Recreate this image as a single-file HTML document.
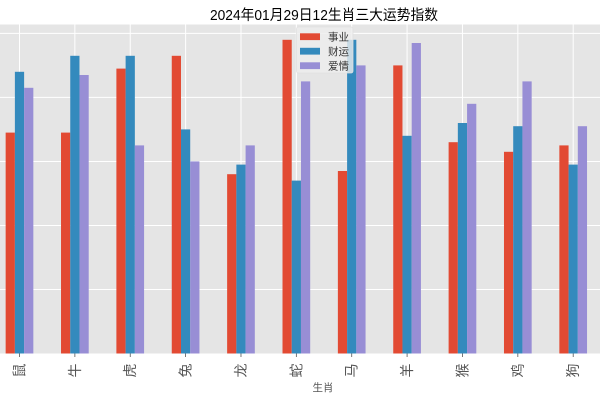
<!DOCTYPE html>
<html>
<head>
<meta charset="utf-8">
<style>
  html, body { margin:0; padding:0; background:#ffffff; }
  svg { display:block; }
  text { font-family: "Liberation Sans", "Noto Sans CJK SC", "WenQuanYi Zen Hei", sans-serif; }
</style>
</head>
<body>
<svg width="600" height="400" viewBox="0 0 600 400" xmlns="http://www.w3.org/2000/svg">
  <rect x="0" y="0" width="600" height="400" fill="#ffffff"/>
  <!-- plot area -->
  <rect x="0" y="24.5" width="600" height="329" fill="#E5E5E5"/>
  <!-- horizontal gridlines -->
  <g stroke="#ffffff" stroke-width="1">
    <line x1="0" y1="33.4" x2="600" y2="33.4"/>
    <line x1="0" y1="97.4" x2="600" y2="97.4"/>
    <line x1="0" y1="161.5" x2="600" y2="161.5"/>
    <line x1="0" y1="225.5" x2="600" y2="225.5"/>
    <line x1="0" y1="289.5" x2="600" y2="289.5"/>
  </g>
  <!-- vertical gridlines -->
  <g stroke="#ffffff" stroke-width="1">
    <line x1="19.5" y1="24.5" x2="19.5" y2="353.5"/>
    <line x1="74.87" y1="24.5" x2="74.87" y2="353.5"/>
    <line x1="130.24" y1="24.5" x2="130.24" y2="353.5"/>
    <line x1="185.61" y1="24.5" x2="185.61" y2="353.5"/>
    <line x1="240.98" y1="24.5" x2="240.98" y2="353.5"/>
    <line x1="296.35" y1="24.5" x2="296.35" y2="353.5"/>
    <line x1="351.72" y1="24.5" x2="351.72" y2="353.5"/>
    <line x1="407.09" y1="24.5" x2="407.09" y2="353.5"/>
    <line x1="462.46" y1="24.5" x2="462.46" y2="353.5"/>
    <line x1="517.83" y1="24.5" x2="517.83" y2="353.5"/>
    <line x1="573.2" y1="24.5" x2="573.2" y2="353.5"/>
  </g>
  <!-- red bars 事业 -->
  <g fill="#E24A33">
    <rect x="5.65" y="132.6" width="9.23" height="220.9"/>
    <rect x="61.02" y="132.6" width="9.23" height="220.9"/>
    <rect x="116.39" y="68.6" width="9.23" height="284.9"/>
    <rect x="171.76" y="55.8" width="9.23" height="297.7"/>
    <rect x="227.13" y="174.2" width="9.23" height="179.3"/>
    <rect x="282.5" y="39.8" width="9.23" height="313.7"/>
    <rect x="337.87" y="171.0" width="9.23" height="182.5"/>
    <rect x="393.24" y="65.4" width="9.23" height="288.1"/>
    <rect x="448.61" y="142.2" width="9.23" height="211.3"/>
    <rect x="503.98" y="151.8" width="9.23" height="201.7"/>
    <rect x="559.35" y="145.4" width="9.23" height="208.1"/>
  </g>
  <!-- blue bars 财运 -->
  <g fill="#348ABD">
    <rect x="14.88" y="71.8" width="9.23" height="281.7"/>
    <rect x="70.25" y="55.8" width="9.23" height="297.7"/>
    <rect x="125.62" y="55.8" width="9.23" height="297.7"/>
    <rect x="180.99" y="129.4" width="9.23" height="224.1"/>
    <rect x="236.36" y="164.6" width="9.23" height="188.9"/>
    <rect x="291.73" y="180.6" width="9.23" height="172.9"/>
    <rect x="347.1" y="39.8" width="9.23" height="313.7"/>
    <rect x="402.47" y="135.8" width="9.23" height="217.7"/>
    <rect x="457.84" y="123.0" width="9.23" height="230.5"/>
    <rect x="513.21" y="126.2" width="9.23" height="227.3"/>
    <rect x="568.58" y="164.6" width="9.23" height="188.9"/>
  </g>
  <!-- purple bars 爱情 -->
  <g fill="#988ED5">
    <rect x="24.11" y="87.8" width="9.23" height="265.7"/>
    <rect x="79.48" y="75.0" width="9.23" height="278.5"/>
    <rect x="134.85" y="145.4" width="9.23" height="208.1"/>
    <rect x="190.22" y="161.4" width="9.23" height="192.1"/>
    <rect x="245.59" y="145.4" width="9.23" height="208.1"/>
    <rect x="300.96" y="81.4" width="9.23" height="272.1"/>
    <rect x="356.33" y="65.4" width="9.23" height="288.1"/>
    <rect x="411.7" y="43.0" width="9.23" height="310.5"/>
    <rect x="467.07" y="103.8" width="9.23" height="249.7"/>
    <rect x="522.44" y="81.4" width="9.23" height="272.1"/>
    <rect x="577.81" y="126.2" width="9.23" height="227.3"/>
  </g>
  <!-- tick marks -->
  <g stroke="#555555" stroke-width="0.8">
    <line x1="19.5" y1="353.5" x2="19.5" y2="357"/>
    <line x1="74.87" y1="353.5" x2="74.87" y2="357"/>
    <line x1="130.24" y1="353.5" x2="130.24" y2="357"/>
    <line x1="185.61" y1="353.5" x2="185.61" y2="357"/>
    <line x1="240.98" y1="353.5" x2="240.98" y2="357"/>
    <line x1="296.35" y1="353.5" x2="296.35" y2="357"/>
    <line x1="351.72" y1="353.5" x2="351.72" y2="357"/>
    <line x1="407.09" y1="353.5" x2="407.09" y2="357"/>
    <line x1="462.46" y1="353.5" x2="462.46" y2="357"/>
    <line x1="517.83" y1="353.5" x2="517.83" y2="357"/>
    <line x1="573.2" y1="353.5" x2="573.2" y2="357"/>
  </g>
  <!-- tick labels (rotated 90) -->
  <g fill="#555555" font-size="14" text-anchor="middle">
    <text transform="translate(19.5,370.5) rotate(-90)" dominant-baseline="central">鼠</text>
    <text transform="translate(74.87,370.5) rotate(-90)" dominant-baseline="central">牛</text>
    <text transform="translate(130.24,370.5) rotate(-90)" dominant-baseline="central">虎</text>
    <text transform="translate(185.61,370.5) rotate(-90)" dominant-baseline="central">兔</text>
    <text transform="translate(240.98,370.5) rotate(-90)" dominant-baseline="central">龙</text>
    <text transform="translate(296.35,370.5) rotate(-90)" dominant-baseline="central">蛇</text>
    <text transform="translate(351.72,370.5) rotate(-90)" dominant-baseline="central">马</text>
    <text transform="translate(407.09,370.5) rotate(-90)" dominant-baseline="central">羊</text>
    <text transform="translate(462.46,370.5) rotate(-90)" dominant-baseline="central">猴</text>
    <text transform="translate(517.83,370.5) rotate(-90)" dominant-baseline="central">鸡</text>
    <text transform="translate(573.2,370.5) rotate(-90)" dominant-baseline="central">狗</text>
  </g>
  <!-- x label -->
  <text x="323" y="391" font-size="10.5" fill="#555555" text-anchor="middle">生肖</text>
  <!-- title -->
  <text x="324" y="20" font-size="14.5" fill="#000000" text-anchor="middle" textLength="228" lengthAdjust="spacingAndGlyphs">2024年01月29日12生肖三大运势指数</text>
  <!-- legend -->
  <rect x="296.5" y="27" width="56.5" height="46" rx="2" fill="#EDEDED" fill-opacity="0.8" stroke="#E0E0E0" stroke-width="0.8"/>
  <rect x="300" y="33.3" width="20" height="6.8" fill="#E24A33"/>
  <rect x="300" y="47.8" width="20" height="6.8" fill="#348ABD"/>
  <rect x="300" y="62.3" width="20" height="6.8" fill="#988ED5"/>
  <g font-size="10.5" fill="#333333">
    <text x="328" y="40.5">事业</text>
    <text x="328" y="55">财运</text>
    <text x="328" y="69.5">爱情</text>
  </g>
</svg>
</body>
</html>
